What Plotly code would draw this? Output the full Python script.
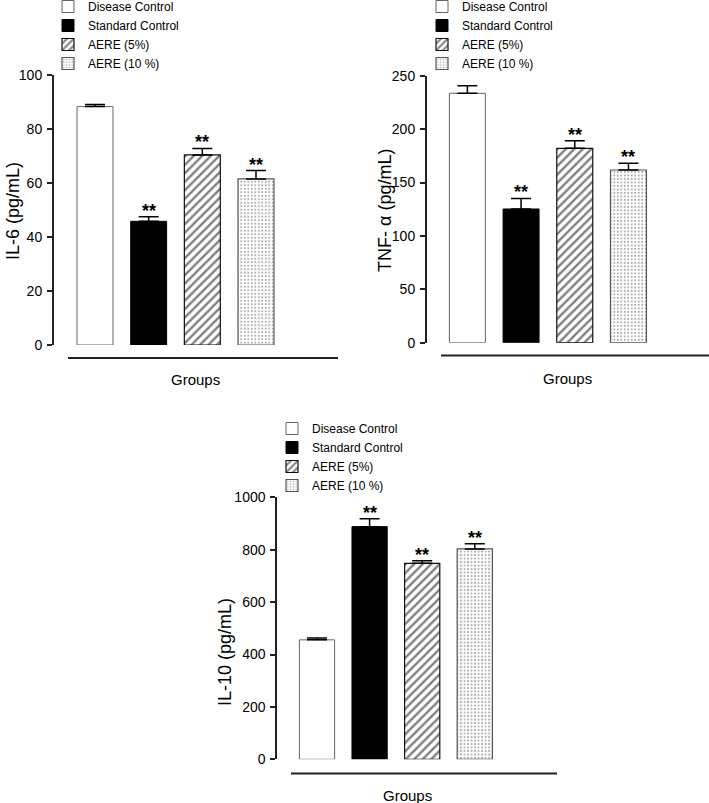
import plotly.graph_objects as go

# ---------------- data ----------------
groups = ["Disease Control", "Standard Control", "AERE (5%)", "AERE (10 %)"]
il6_mean = [88.3, 45.8, 70.4, 61.5]
il6_sem = [0.8, 1.7, 2.4, 3.1]
tnf_mean = [233.5, 125.2, 182.0, 161.7]
tnf_sem = [7.1, 9.9, 7.1, 6.3]
il10_mean = [456, 888, 748, 803]
il10_sem = [7, 30, 10, 20]
sig_il6 = ["", "**", "**", "**"]
sig_tnf = ["", "**", "**", "**"]
sig_il10 = ["", "**", "**", "**"]

W, H = 709, 803
FONT = "Liberation Sans, Arial, sans-serif"


def px(x):
    return x / W


def py(y):
    return 1 - y / H


styles = [
    dict(color="white", line=dict(color="#666666", width=1)),
    dict(color="black", line=dict(color="black", width=1)),
    dict(color="white", line=dict(color="#111111", width=1.2),
         pattern=dict(shape="/", fgcolor="black", bgcolor="white", size=6, solidity=0.4)),
    dict(color="white", line=dict(color="#555555", width=1.2),
         pattern=dict(shape=".", fgcolor="#555555", bgcolor="white", size=3.5, solidity=0.25)),
]

panels = [
    dict(mean=il6_mean, sem=il6_sem, sig=sig_il6, title="IL-6 (pg/mL)", ymax=100, dtick=20,
         xd=(54, 300), yd=(75, 345), xr=(-0.764, 3.82), base=(68, 338, 358),
         groups_xy=(195, 379), ytitle_xy=(13, 211), legend=(48, -8)),
    dict(mean=tnf_mean, sem=tnf_sem, sig=sig_tnf, title="TNF- α (pg/mL)", ymax=250, dtick=50,
         xd=(427, 680), yd=(75.7, 342.7), xr=(-0.752, 3.96), base=(441, 709, 355.5),
         groups_xy=(567, 378), ytitle_xy=(385, 211), legend=(422, -8)),
    dict(mean=il10_mean, sem=il10_sem, sig=sig_il10, title="IL-10 (pg/mL)", ymax=1000, dtick=200,
         xd=(277.3, 520), yd=(497.3, 759.3), xr=(-0.755, 3.86), base=(291, 557, 773.5),
         groups_xy=(407, 795), ytitle_xy=(225, 652), legend=(272, 414)),
]

fig = go.Figure()
annotations = []
shapes = []
layout = dict(
    width=W, height=H, margin=dict(l=0, r=0, t=0, b=0, autoexpand=False),
    paper_bgcolor="white", plot_bgcolor="white", barmode="overlay",
    font=dict(family=FONT, color="black"),
)

for k, p in enumerate(panels):
    idx = "" if k == 0 else str(k + 1)
    xname, yname = "x" + idx, "y" + idx
    legname = "legend" + idx
    for i, g in enumerate(groups):
        fig.add_trace(go.Bar(
            x=[g], y=[p["mean"][i]], name=g, width=0.67,
            marker=styles[i],
            error_y=dict(type="data", array=[p["sem"][i]], arrayminus=[0], symmetric=False,
                         color="black", thickness=1.5, width=10),
            xaxis=xname, yaxis=yname, legend=legname, showlegend=True,
        ))
        if p["sig"][i]:
            annotations.append(dict(
                x=g, y=p["mean"][i] + p["sem"][i], xref=xname, yref=yname,
                text="<b>" + p["sig"][i] + "</b>", showarrow=False, yanchor="bottom",
                yshift=-6, font=dict(size=18, family=FONT, color="black")))
    layout["xaxis" + idx] = dict(
        domain=[px(p["xd"][0]), px(p["xd"][1])], anchor=yname, range=list(p["xr"]),
        type="category", categoryorder="array", categoryarray=groups,
        showticklabels=False, ticks="", showline=False, showgrid=False, zeroline=False,
        fixedrange=True)
    layout["yaxis" + idx] = dict(
        domain=[py(p["yd"][1]), py(p["yd"][0])], anchor=xname, range=[0, p["ymax"]],
        dtick=p["dtick"], showline=True, linecolor="#222222", linewidth=2,
        ticks="outside", ticklen=5, tickwidth=2, tickcolor="#222222",
        tickfont=dict(size=14, family=FONT, color="black"), ticklabelstandoff=2,
        showgrid=False, zeroline=False, fixedrange=True)
    layout[legname] = dict(
        x=px(p["legend"][0]), y=py(p["legend"][1]), xanchor="left", yanchor="top",
        bgcolor="rgba(0,0,0,0)", borderwidth=0, font=dict(size=12, family=FONT),
        tracegroupgap=0, traceorder="normal")
    x0, x1, yb = p["base"]
    shapes.append(dict(type="line", xref="paper", yref="paper", x0=px(x0), x1=px(x1),
                       y0=py(yb), y1=py(yb), line=dict(color="#222222", width=2)))
    gx, gy = p["groups_xy"]
    annotations.append(dict(x=px(gx), y=py(gy), xref="paper", yref="paper", text="Groups",
                            showarrow=False, xanchor="center", yanchor="middle",
                            font=dict(size=15, family=FONT)))
    tx, ty = p["ytitle_xy"]
    annotations.append(dict(x=px(tx), y=py(ty), xref="paper", yref="paper", text=p["title"],
                            showarrow=False, textangle=-90, xanchor="center", yanchor="middle",
                            font=dict(size=18, family=FONT)))

layout["annotations"] = annotations
layout["shapes"] = shapes
fig.update_layout(**layout)
fig.write_html(
    "out.html",
    config={"displayModeBar": False},
    post_script="document.body.style.margin='0';document.body.style.overflow='hidden';",
)
